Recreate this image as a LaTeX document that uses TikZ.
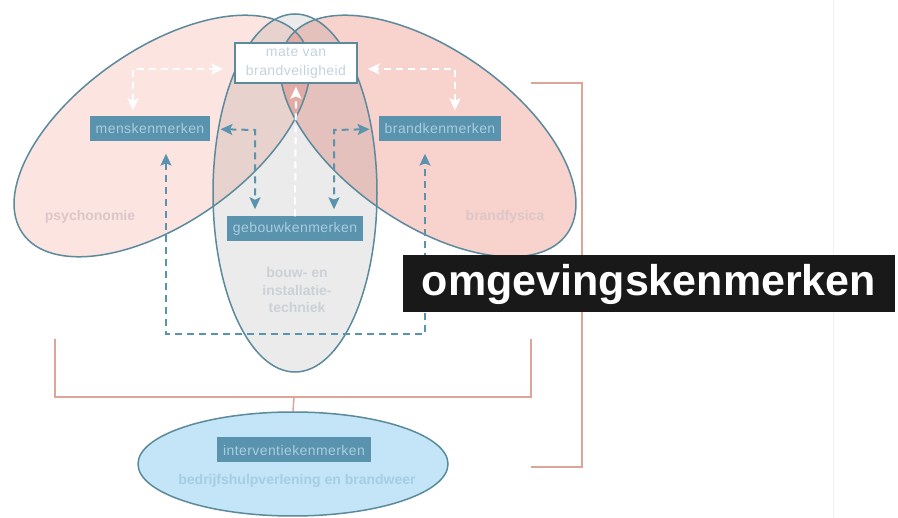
\documentclass[tikz,border=0pt]{standalone}
\usepackage{fontspec}
\setmainfont{Liberation Sans}
\newfontfamily\labelfont[LetterSpace=3]{Liberation Sans}
\usetikzlibrary{arrows.meta,shapes.geometric}

\definecolor{edgeblue}{HTML}{5B8A9C}
\definecolor{boxblue}{HTML}{5A93AD}
\definecolor{boxtext}{HTML}{A9CDE0}
\definecolor{pinkleft}{HTML}{FCE4E0}
\definecolor{pinkright}{HTML}{F8D2CD}
\definecolor{bouwgray}{HTML}{EBEBEB}
\definecolor{bhvblue}{HTML}{C4E4F7}
\definecolor{bhvtext}{HTML}{A5CDE4}
\definecolor{bracketred}{HTML}{DEA597}
\definecolor{fainttext}{HTML}{DCC7C8}
\definecolor{bouwtext}{HTML}{CBD1D6}
\definecolor{matetext}{HTML}{C5D3DD}

\tikzset{kenpijl/.tip={Stealth[length=12pt,width=11pt,inset=2.5pt]}}

\begin{document}
\begin{tikzpicture}[x=1pt,y=-1pt,
    kenmerk/.style={fill=boxblue, text=boxtext, font=\labelfont\fontsize{14}{17}\selectfont,
        inner xsep=6pt, inner ysep=0pt, minimum height=25pt},
    vaklabel/.style={font=\bfseries\fontsize{14}{17.5}\selectfont, align=center},
    tealdash/.style={draw=boxblue, line width=2pt, dash pattern=on 7pt off 5pt},
    whitedash/.style={draw=white, line width=2pt, dash pattern=on 7pt off 5pt},
    bracket/.style={draw=bracketred, line width=1.5pt},
    vlak/.style={draw=edgeblue, line width=1.5pt}]

    \useasboundingbox (0,0) rectangle (898,518);
    \fill[white] (0,0) rectangle (898,518);
    \draw[black!5, line width=1pt] (833,0) -- (833,518);

    % Draw the three overlapping fields
    \begin{scope}[blend group=multiply]
        \fill[pinkleft, shift={(162,136)}, rotate=35] (0,0) ellipse [x radius=170, y radius=87];
        \fill[pinkright, shift={(428,136)}, rotate=-35] (0,0) ellipse [x radius=170, y radius=87];
        \fill[bouwgray] (295,193) ellipse [x radius=82, y radius=179];
    \end{scope}
    \draw[vlak, shift={(162,136)}, rotate=35] (0,0) ellipse [x radius=170, y radius=87];
    \draw[vlak, shift={(428,136)}, rotate=-35] (0,0) ellipse [x radius=170, y radius=87];
    \draw[vlak] (295,193) ellipse [x radius=82, y radius=179];

    % Field labels
    \node[vaklabel, text=fainttext] (psycho) at (90,217) {psychonomie};
    \node[vaklabel, text=fainttext] (fysica) at (505,217) {brandfysica};
    \node[vaklabel, text=bouwtext] (techniek) at (297,290) {bouw- en\\installatie-\\techniek};

    % Boxes
    \node[draw=edgeblue, line width=1.5pt, fill=white, text=matetext, align=center,
        font=\labelfont\fontsize{14}{19}\selectfont, minimum width=122pt, minimum height=40pt,
        inner sep=0pt] (veilig) at (296,63) {mate van\\brandveiligheid};
    \node[kenmerk] (mens) at (150,129) {menskenmerken};
    \node[kenmerk] (brand) at (440,129) {brandkenmerken};
    \node[kenmerk] (gebouw) at (295,229) {gebouwkenmerken};

    % White arrows towards the safety level
    \coordinate (wl) at (133,69);
    \coordinate (wr) at (455,69);
    \draw[whitedash, {kenpijl}-{kenpijl}, shorten <=6pt, shorten >=11pt] (mens.north -| wl) -- (wl) -- (veilig.west |- wl);
    \draw[whitedash, {kenpijl}-{kenpijl}, shorten <=6pt, shorten >=10pt] (brand.north -| wr) -- (wr) -- (veilig.east |- wr);
    \draw[whitedash, -{kenpijl}, shorten >=3pt] (gebouw.north) -- (veilig.south);

    % Teal arrows between the characteristics
    \coordinate (tl) at (255,130);
    \coordinate (tr) at (334,130);
    \draw[tealdash, {kenpijl}-{kenpijl}, shorten <=10pt, shorten >=7pt] (mens.east) -- (tl) -- (tl |- gebouw.north);
    \draw[tealdash, {kenpijl}-{kenpijl}, shorten <=9pt, shorten >=7pt] (brand.west) -- (tr) -- (tr |- gebouw.north);
    \coordinate (bl) at (166,334);
    \coordinate (br) at (425,334);
    \draw[tealdash, {kenpijl}-{kenpijl}, shorten <=12pt, shorten >=12pt] (mens.south -| bl) -- (bl) -- (br) -- (brand.south -| br);

    % Brackets
    \draw[bracket] (55,339) -- (55,397) -- (531,397) -- (531,339);
    \draw[bracket] (531,83) -- (582,83) -- (582,467) -- (531,467);

    % Intervention field
    \node[ellipse, vlak, fill=bhvblue, minimum width=310pt, minimum height=104pt, inner sep=0pt] (bhv) at (293,464) {};
    \coordinate (stam) at (294,397);
    \draw[bracket] (stam) -- (bhv.north);
    \node[kenmerk] (interventie) at (294,450) {interventiekenmerken};
    \node[vaklabel, text=bhvtext] (bhvlabel) at (297,481) {bedrijfshulpverlening en brandweer};

    % Environment label
    \node[fill=black!90, text=white, font=\bfseries\fontsize{43}{48}\selectfont,
        minimum width=492pt, minimum height=57pt, inner sep=0pt] (omgeving) at (649,284) {omgevingskenmerken};
\end{tikzpicture}
\end{document}
